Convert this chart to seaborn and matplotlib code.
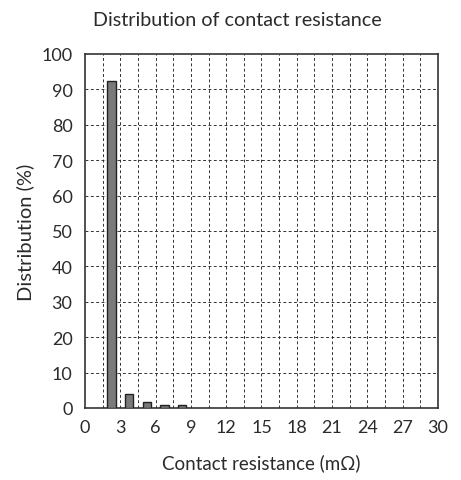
import matplotlib
matplotlib.use("Agg")
import matplotlib.pyplot as plt
import seaborn as sns
import numpy as np
import pandas as pd

# data
bin_centers = [2.25, 3.75, 5.25, 6.75, 8.25]
distribution = [92.5, 4.0, 1.7, 0.9, 0.9]
x_ticks = [0, 3, 6, 9, 12, 15, 18, 21, 24, 27, 30]
y_ticks = [0, 10, 20, 30, 40, 50, 60, 70, 80, 90, 100]

sns.set_style("white")
plt.rcParams['font.family'] = ['Lato', 'DejaVu Sans']

TXT = "#2b2b2b"
df = pd.DataFrame({"x": bin_centers, "y": distribution})

fig = plt.figure(figsize=(4.61, 4.81), dpi=100)
ax = fig.add_axes([0.1844, 0.1497, 0.7656, 0.736])

sns.barplot(data=df, x="x", y="y", native_scale=True, width=0.47,
            color="#7a7a7a", saturation=1, edgecolor="#222222", linewidth=1.0, ax=ax, zorder=3)

ax.set_xlim(0, 30)
ax.set_ylim(0, 100)
ax.set_xticks(x_ticks)
ax.set_xticklabels([str(t) for t in x_ticks])
ax.set_yticks(y_ticks)
ax.set_yticklabels([str(t) for t in y_ticks])
ax.grid(False)
for gx in np.arange(1.5, 30, 1.5):
    ax.axvline(gx, color="#333333", linestyle=(0, (3, 2.5)), linewidth=0.7, zorder=1)
for gy in y_ticks[1:-1]:
    ax.axhline(gy, color="#333333", linestyle=(0, (3, 2.5)), linewidth=0.7, zorder=1)

ax.tick_params(axis="y", which="both", length=0, labelsize=13, labelcolor=TXT, pad=9)
ax.tick_params(axis="x", which="both", length=0, labelsize=13, labelcolor=TXT, pad=8)
for s in ax.spines.values():
    s.set_color("#333333")
    s.set_linewidth(1.2)

ax.set_xlabel("Contact resistance (mΩ)", fontsize=13.5, color=TXT, labelpad=13)
ax.set_ylabel("Distribution (%)", fontsize=14.5, color=TXT, labelpad=5)
fig.text(0.515, 1 - 20 / 481, "Distribution of contact resistance", fontsize=14.2,
         color=TXT, ha="center", va="center")

fig.savefig("out.png", dpi=100)
